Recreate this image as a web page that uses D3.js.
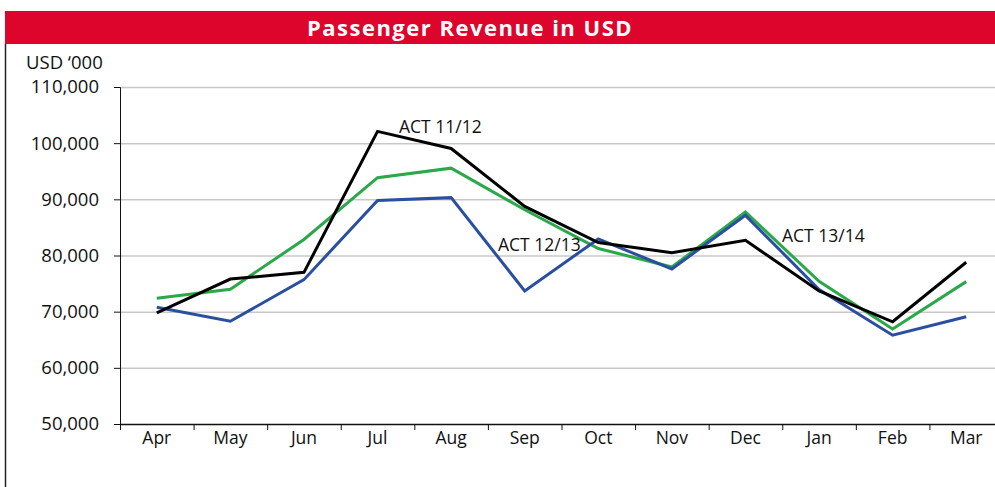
<!DOCTYPE html>
<html>
<head>
<meta charset="utf-8">
<script src="https://cdn.jsdelivr.net/npm/d3@7"></script>
<style>
  body { margin: 0; background: #fff; }
  svg { font-family: "Open Sans", Lato, sans-serif; }
</style>
</head>
<body>
<div id="chart"></div>
<script>
// Passenger revenue chart, values in USD '000

const months = ["Apr", "May", "Jun", "Jul", "Aug", "Sep", "Oct", "Nov", "Dec", "Jan", "Feb", "Mar"];
const act1112 = [69800, 75800, 77000, 102100, 99050, 88750, 82300, 80500, 82700, 73700, 68200, 78800];
const act1213 = [70800, 68300, 75700, 89800, 90300, 73700, 82950, 77600, 87150, 73950, 65800, 69100];
const act1314 = [72400, 74000, 82850, 93850, 95550, 88150, 81250, 77950, 87750, 75400, 66900, 75350];
const yTicks = [50000, 60000, 70000, 80000, 90000, 100000, 110000];

const width = 995;
const height = 487;
const margin = {left: 120, right: -8, top: 87, bottom: 63};

const svg = d3.select("#chart")
  .append("svg")
  .attr("width", width)
  .attr("height", height);

// red title banner
svg.append("rect")
  .attr("x", 5).attr("y", 11)
  .attr("width", width - 5).attr("height", 33)
  .attr("fill", "#dd052b");

svg.append("text")
  .attr("x", 470).attr("y", 36)
  .attr("text-anchor", "middle")
  .attr("fill", "#fff")
  .attr("font-size", "22px")
  .attr("font-weight", "bold")
  .attr("letter-spacing", "1.5px")
  .text("Passenger Revenue in USD");

// left frame line
svg.append("line")
  .attr("x1", 5.5).attr("x2", 5.5)
  .attr("y1", 44).attr("y2", height)
  .attr("stroke", "#222").attr("stroke-width", 1.5);

let xScale = d3.scaleBand()
  .domain(months)
  .range([margin.left, width - margin.right]);

let yScale = d3.scaleLinear()
  .domain([50000, 110000])
  .range([height - margin.bottom, margin.top]);

// gridlines
svg.append("g")
  .selectAll("line")
  .data(yTicks.slice(1))
  .enter()
  .append("line")
    .attr("x1", margin.left)
    .attr("x2", width)
    .attr("y1", d => yScale(d) + 0.5)
    .attr("y2", d => yScale(d) + 0.5)
    .attr("stroke", "#c8c8c8")
    .attr("stroke-width", 1.5);

// y axis
const yAxis = svg.append("g")
  .attr("transform", `translate(${margin.left}, 0)`)
  .call(d3.axisLeft(yScale)
          .tickValues(yTicks)
          .tickFormat(d3.format(","))
          .tickSize(6)
          .tickPadding(15))
  .attr("font-size", "18.5px")
  .attr("font-family", null);
yAxis.selectAll("text").attr("fill", "#111");
yAxis.selectAll("line, path").attr("stroke", "#111");

// x axis
const xAxis = svg.append("g")
  .attr("transform", `translate(0, ${height - margin.bottom})`)
  .call(d3.axisBottom(xScale).tickSize(0).tickPadding(8))
  .attr("font-size", "17.5px")
  .attr("font-family", null);
xAxis.select(".domain").attr("stroke", "#111").attr("stroke-width", 1.5);
xAxis.selectAll("text").attr("fill", "#111");

// band boundary ticks
xAxis.append("g")
  .selectAll("line")
  .data(months)
  .enter()
  .append("line")
    .attr("x1", d => xScale(d) + 0.5)
    .attr("x2", d => xScale(d) + 0.5)
    .attr("y1", 0).attr("y2", 6)
    .attr("stroke", "#111");

// axis unit label
svg.append("text")
  .attr("x", 26).attr("y", 69)
  .attr("font-size", "18.5px")
  .attr("fill", "#111")
  .text("USD \u2018000");

const line = d3.line()
  .x((d, i) => xScale(months[i]) + xScale.bandwidth() / 2)
  .y(d => yScale(d));

const series = [
  {name: "ACT 13/14", values: act1314, color: "#2ba84a"},
  {name: "ACT 12/13", values: act1213, color: "#2b4f9f"},
  {name: "ACT 11/12", values: act1112, color: "#000"}
];

svg.selectAll(".series")
  .data(series)
  .enter()
  .append("path")
    .attr("class", "series")
    .attr("d", d => line(d.values))
    .attr("fill", "none")
    .attr("stroke", d => d.color)
    .attr("stroke-width", 3)
    .attr("stroke-linejoin", "miter");

// series labels
const labels = [
  {text: "ACT 11/12", x: 399, y: 133},
  {text: "ACT 12/13", x: 498, y: 251},
  {text: "ACT 13/14", x: 782, y: 242}
];

svg.selectAll(".lbl")
  .data(labels)
  .enter()
  .append("text")
    .attr("class", "lbl")
    .attr("x", d => d.x)
    .attr("y", d => d.y)
    .attr("font-size", "17.5px")
    .attr("fill", "#111")
    .text(d => d.text);
</script>
</body>
</html>
